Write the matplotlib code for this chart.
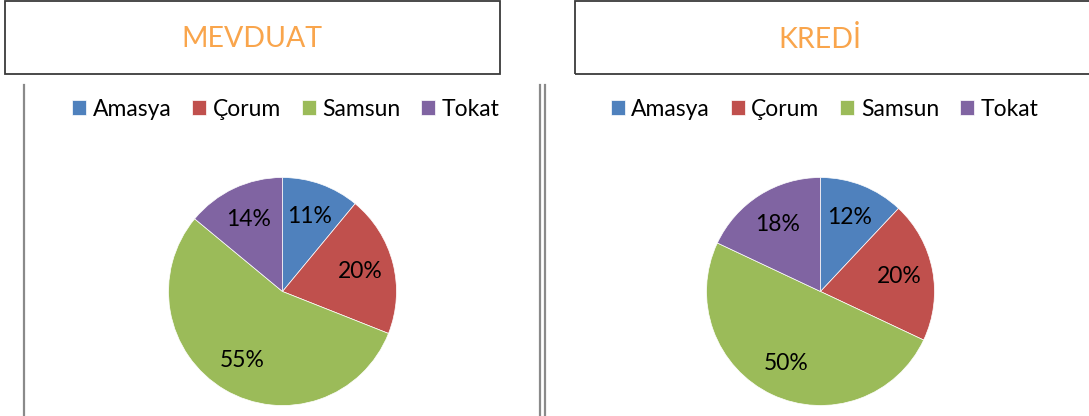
import matplotlib
matplotlib.use("Agg")
import matplotlib.pyplot as plt
from matplotlib.patches import Rectangle
from matplotlib.lines import Line2D

# Data
provinces = ["Amasya", "Çorum", "Samsun", "Tokat"]
mevduat_share = [11, 20, 55, 14]
kredi_share = [12, 20, 50, 18]
titles = ["MEVDUAT", "KREDİ"]

colors = ["#4F81BD", "#C0504D", "#9BBB59", "#8064A2"]
title_color = "#F9A54C"
FONT = ["Lato", "DejaVu Sans"]

W, H = 1089, 416
fig = plt.figure(figsize=(W / 100, H / 100), dpi=100)
fig.patch.set_facecolor("white")


def fx(px):
    return px / W


def fy(py):
    return 1 - py / H


# Title boxes
for (x0, x1), cx, title in zip([(5, 500), (575, 1095)], [252, 820], titles):
    fig.patches.append(Rectangle((fx(x0), fy(74)), fx(x1 - x0), (74 - 1) / H,
                                 transform=fig.transFigure, fill=False,
                                 edgecolor="#3a3a3a", linewidth=1.3))
    fig.text(fx(cx), fy(39), title, ha="center", va="center",
             fontsize=20.5, color=title_color, family=["Lato", "DejaVu Sans"])

# Panel separators
for x in [24, 540, 545]:
    fig.lines.append(Line2D([fx(x), fx(x)], [fy(85), fy(416)],
                            transform=fig.transFigure, color="#8a8a8a",
                            linewidth=1.6))

# Pies
R = 114
for cx, values, lcx in [(282.5, mevduat_share, 286), (820.5, kredi_share, 824.5)]:
    cy = 291.5
    ax = fig.add_axes([fx(cx - R), fy(cy + R), fx(2 * R), 2 * R / H])
    wedges, _, autotexts = ax.pie(values, colors=colors, startangle=90,
                                  counterclock=False, radius=1,
                                  autopct="%1.0f%%", pctdistance=0.7,
                                  wedgeprops=dict(edgecolor="white", linewidth=0.5),
                                  textprops=dict(fontsize=16.5, color="black",
                                                 family=FONT))
    ax.set_xlim(-1, 1)
    ax.set_ylim(-1, 1)
    ax.set_aspect("equal")
    ax.axis("off")
    fig.legend(wedges, provinces, loc="center", bbox_to_anchor=(fx(lcx), fy(109)),
               ncol=4, frameon=False, prop=dict(family=FONT, size=16.5),
               handlelength=0.6, handleheight=0.6, handletextpad=0.3,
               columnspacing=0.9, borderpad=0, borderaxespad=0)

fig.savefig("out.png", dpi=100, facecolor="white")
